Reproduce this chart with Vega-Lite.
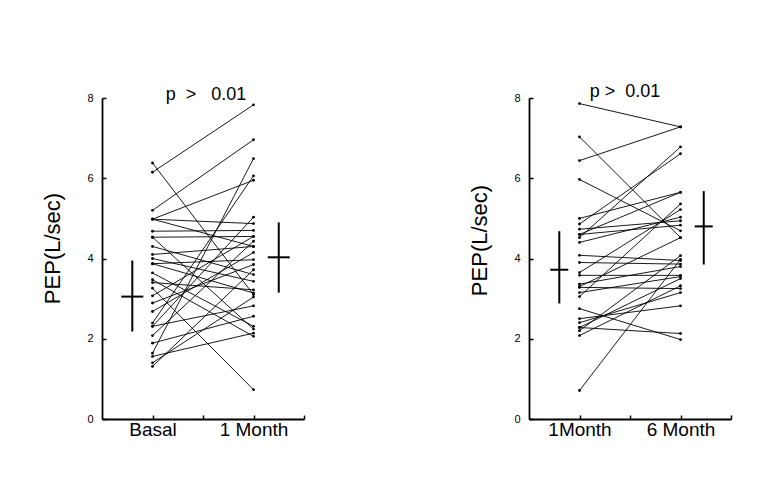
{
  "$schema": "https://vega.github.io/schema/vega-lite/v6.json",
  "background": "white",
  "padding": {"left": 41, "top": 83, "right": 5, "bottom": 5},
  "spacing": 163,
  "config": {
    "view": {"stroke": null},
    "font": "Liberation Sans",
    "axis": {"domainColor": "black", "domainWidth": 1.8, "tickColor": "black", "tickSize": -4, "tickWidth": 1.5, "grid": false, "labelColor": "black", "titleColor": "black", "labelFont": "Liberation Sans", "titleFont": "Liberation Sans", "titleFontWeight": "normal"},
    "axisY": {"labelFontSize": 11, "titleFontSize": 22, "labelPadding": 13},
    "axisX": {"labelFontSize": 19, "labelPadding": 5}
  },
  "datasets": {
    "pairs": [
      {"panel": "A", "id": 1, "t": 1, "v": 6.15}, {"panel": "A", "id": 1, "t": 2, "v": 7.83},
      {"panel": "A", "id": 2, "t": 1, "v": 6.38}, {"panel": "A", "id": 2, "t": 2, "v": 3.1},
      {"panel": "A", "id": 3, "t": 1, "v": 5.2}, {"panel": "A", "id": 3, "t": 2, "v": 6.96},
      {"panel": "A", "id": 4, "t": 1, "v": 4.98}, {"panel": "A", "id": 4, "t": 2, "v": 5.95},
      {"panel": "A", "id": 5, "t": 1, "v": 4.98}, {"panel": "A", "id": 5, "t": 2, "v": 4.87},
      {"panel": "A", "id": 6, "t": 1, "v": 4.98}, {"panel": "A", "id": 6, "t": 2, "v": 4.3},
      {"panel": "A", "id": 7, "t": 1, "v": 4.68}, {"panel": "A", "id": 7, "t": 2, "v": 4.7},
      {"panel": "A", "id": 8, "t": 1, "v": 4.53}, {"panel": "A", "id": 8, "t": 2, "v": 2.24},
      {"panel": "A", "id": 9, "t": 1, "v": 4.3}, {"panel": "A", "id": 9, "t": 2, "v": 3.6},
      {"panel": "A", "id": 10, "t": 1, "v": 4.1}, {"panel": "A", "id": 10, "t": 2, "v": 4.3},
      {"panel": "A", "id": 11, "t": 1, "v": 4.0}, {"panel": "A", "id": 11, "t": 2, "v": 3.43},
      {"panel": "A", "id": 12, "t": 1, "v": 3.87}, {"panel": "A", "id": 12, "t": 2, "v": 3.97},
      {"panel": "A", "id": 13, "t": 1, "v": 2.39}, {"panel": "A", "id": 13, "t": 2, "v": 6.06},
      {"panel": "A", "id": 14, "t": 1, "v": 1.64}, {"panel": "A", "id": 14, "t": 2, "v": 6.49},
      {"panel": "A", "id": 15, "t": 1, "v": 3.47}, {"panel": "A", "id": 15, "t": 2, "v": 2.06},
      {"panel": "A", "id": 16, "t": 1, "v": 3.4}, {"panel": "A", "id": 16, "t": 2, "v": 3.22},
      {"panel": "A", "id": 17, "t": 1, "v": 3.26}, {"panel": "A", "id": 17, "t": 2, "v": 0.73},
      {"panel": "A", "id": 18, "t": 1, "v": 3.07}, {"panel": "A", "id": 18, "t": 2, "v": 4.55},
      {"panel": "A", "id": 19, "t": 1, "v": 2.89}, {"panel": "A", "id": 19, "t": 2, "v": 3.85},
      {"panel": "A", "id": 20, "t": 1, "v": 2.68}, {"panel": "A", "id": 20, "t": 2, "v": 4.15},
      {"panel": "A", "id": 21, "t": 1, "v": 2.31}, {"panel": "A", "id": 21, "t": 2, "v": 2.82},
      {"panel": "A", "id": 22, "t": 1, "v": 2.08}, {"panel": "A", "id": 22, "t": 2, "v": 4.43},
      {"panel": "A", "id": 23, "t": 1, "v": 1.89}, {"panel": "A", "id": 23, "t": 2, "v": 2.56},
      {"panel": "A", "id": 24, "t": 1, "v": 1.56}, {"panel": "A", "id": 24, "t": 2, "v": 2.14},
      {"panel": "A", "id": 25, "t": 1, "v": 1.4}, {"panel": "A", "id": 25, "t": 2, "v": 3.04},
      {"panel": "A", "id": 26, "t": 1, "v": 1.31}, {"panel": "A", "id": 26, "t": 2, "v": 3.72},
      {"panel": "A", "id": 27, "t": 1, "v": 3.64}, {"panel": "A", "id": 27, "t": 2, "v": 2.31},
      {"panel": "A", "id": 28, "t": 1, "v": 2.31}, {"panel": "A", "id": 28, "t": 2, "v": 5.03},
      {"panel": "A", "id": 29, "t": 1, "v": 3.87}, {"panel": "A", "id": 29, "t": 2, "v": 3.14},
      {"panel": "A", "id": 30, "t": 1, "v": 4.53}, {"panel": "A", "id": 30, "t": 2, "v": 4.55},
      {"panel": "B", "id": 1, "t": 1, "v": 7.86}, {"panel": "B", "id": 1, "t": 2, "v": 7.28},
      {"panel": "B", "id": 2, "t": 1, "v": 7.03}, {"panel": "B", "id": 2, "t": 2, "v": 4.52},
      {"panel": "B", "id": 3, "t": 1, "v": 6.44}, {"panel": "B", "id": 3, "t": 2, "v": 7.28},
      {"panel": "B", "id": 4, "t": 1, "v": 5.97}, {"panel": "B", "id": 4, "t": 2, "v": 4.69},
      {"panel": "B", "id": 5, "t": 1, "v": 5.0}, {"panel": "B", "id": 5, "t": 2, "v": 5.65},
      {"panel": "B", "id": 6, "t": 1, "v": 4.86}, {"panel": "B", "id": 6, "t": 2, "v": 6.61},
      {"panel": "B", "id": 7, "t": 1, "v": 4.73}, {"panel": "B", "id": 7, "t": 2, "v": 4.94},
      {"panel": "B", "id": 8, "t": 1, "v": 4.6}, {"panel": "B", "id": 8, "t": 2, "v": 5.65},
      {"panel": "B", "id": 9, "t": 1, "v": 4.6}, {"panel": "B", "id": 9, "t": 2, "v": 4.83},
      {"panel": "B", "id": 10, "t": 1, "v": 4.52}, {"panel": "B", "id": 10, "t": 2, "v": 6.78},
      {"panel": "B", "id": 11, "t": 1, "v": 4.4}, {"panel": "B", "id": 11, "t": 2, "v": 5.03},
      {"panel": "B", "id": 12, "t": 1, "v": 4.08}, {"panel": "B", "id": 12, "t": 2, "v": 3.95},
      {"panel": "B", "id": 13, "t": 1, "v": 3.9}, {"panel": "B", "id": 13, "t": 2, "v": 3.86},
      {"panel": "B", "id": 14, "t": 1, "v": 3.65}, {"panel": "B", "id": 14, "t": 2, "v": 5.22},
      {"panel": "B", "id": 15, "t": 1, "v": 3.58}, {"panel": "B", "id": 15, "t": 2, "v": 3.58},
      {"panel": "B", "id": 16, "t": 1, "v": 3.36}, {"panel": "B", "id": 16, "t": 2, "v": 3.8},
      {"panel": "B", "id": 17, "t": 1, "v": 3.28}, {"panel": "B", "id": 17, "t": 2, "v": 3.25},
      {"panel": "B", "id": 18, "t": 1, "v": 3.15}, {"panel": "B", "id": 18, "t": 2, "v": 3.55},
      {"panel": "B", "id": 19, "t": 1, "v": 3.05}, {"panel": "B", "id": 19, "t": 2, "v": 5.36},
      {"panel": "B", "id": 20, "t": 1, "v": 2.75}, {"panel": "B", "id": 20, "t": 2, "v": 1.98},
      {"panel": "B", "id": 21, "t": 1, "v": 2.5}, {"panel": "B", "id": 21, "t": 2, "v": 2.82},
      {"panel": "B", "id": 22, "t": 1, "v": 2.4}, {"panel": "B", "id": 22, "t": 2, "v": 3.15},
      {"panel": "B", "id": 23, "t": 1, "v": 2.28}, {"panel": "B", "id": 23, "t": 2, "v": 2.13},
      {"panel": "B", "id": 24, "t": 1, "v": 2.2}, {"panel": "B", "id": 24, "t": 2, "v": 4.07},
      {"panel": "B", "id": 25, "t": 1, "v": 2.08}, {"panel": "B", "id": 25, "t": 2, "v": 3.32},
      {"panel": "B", "id": 26, "t": 1, "v": 0.71}, {"panel": "B", "id": 26, "t": 2, "v": 3.98},
      {"panel": "B", "id": 27, "t": 1, "v": 3.3}, {"panel": "B", "id": 27, "t": 2, "v": 4.52},
      {"panel": "B", "id": 28, "t": 1, "v": 2.28}, {"panel": "B", "id": 28, "t": 2, "v": 3.5}
    ],
    "summary": [
      {"panel": "A", "t": 0.8, "v": 3.05, "lo": 2.18, "hi": 3.95},
      {"panel": "A", "t": 2.25, "v": 4.03, "lo": 3.15, "hi": 4.9},
      {"panel": "B", "t": 0.8, "v": 3.72, "lo": 2.88, "hi": 4.68},
      {"panel": "B", "t": 2.23, "v": 4.8, "lo": 3.85, "hi": 5.68}
    ]
  },
  "hconcat": [
    {
      "width": 202, "height": 321,
      "title": {"text": "p\u00a0\u00a0>\u00a0\u00a0\u00a00.01", "fontSize": 18, "fontWeight": "normal", "font": "Liberation Sans", "baseline": "alphabetic", "offset": -26, "anchor": "middle", "frame": "group", "dx": 3},
      "layer": [
        {
          "data": {"name": "pairs"},
          "transform": [{"filter": "datum.panel == 'A'"}],
          "mark": {"type": "line", "color": "black", "strokeWidth": 0.9},
          "encoding": {
            "x": {"field": "t", "type": "quantitative", "scale": {"domain": [0.5, 2.5], "nice": false, "zero": false}, "axis": {"title": null, "values": [1, 1.5, 2, 2.5], "labelExpr": "datum.value == 1 ? 'Basal' : datum.value == 2 ? '1 Month' : ''"}},
            "y": {"field": "v", "type": "quantitative", "title": "PEP(L/sec)", "scale": {"domain": [0, 8], "nice": false}, "axis": {"values": [0, 2, 4, 6, 8], "titlePadding": 22, "titleY": 150}},
            "detail": {"field": "id"}
          }
        },
        {
          "data": {"name": "pairs"},
          "transform": [{"filter": "datum.panel == 'A'"}],
          "mark": {"type": "circle", "color": "black", "size": 8, "opacity": 1},
          "encoding": {
            "x": {"field": "t", "type": "quantitative"},
            "y": {"field": "v", "type": "quantitative", "title": "PEP(L/sec)"}
          }
        },
        {
          "data": {"name": "summary"},
          "transform": [{"filter": "datum.panel == 'A'"}],
          "mark": {"type": "rule", "color": "black", "strokeWidth": 2},
          "encoding": {
            "x": {"field": "t", "type": "quantitative"},
            "y": {"field": "lo", "type": "quantitative", "title": "PEP(L/sec)"},
            "y2": {"field": "hi"}
          }
        },
        {
          "data": {"name": "summary"},
          "transform": [{"filter": "datum.panel == 'A'"}],
          "mark": {"type": "tick", "orient": "horizontal", "color": "black", "size": 22, "thickness": 2, "opacity": 1},
          "encoding": {
            "x": {"field": "t", "type": "quantitative"},
            "y": {"field": "v", "type": "quantitative", "title": "PEP(L/sec)"}
          }
        }
      ]
    },
    {
      "width": 202, "height": 321,
      "title": {"text": "p\u00a0>\u00a0\u00a00.01", "fontSize": 18, "fontWeight": "normal", "font": "Liberation Sans", "baseline": "alphabetic", "offset": -23, "anchor": "middle", "frame": "group", "dx": -5},
      "layer": [
        {
          "data": {"name": "pairs"},
          "transform": [{"filter": "datum.panel == 'B'"}],
          "mark": {"type": "line", "color": "black", "strokeWidth": 0.9},
          "encoding": {
            "x": {"field": "t", "type": "quantitative", "scale": {"domain": [0.5, 2.5], "nice": false, "zero": false}, "axis": {"title": null, "values": [1, 1.5, 2, 2.5], "labelExpr": "datum.value == 1 ? '1Month' : datum.value == 2 ? '6 Month' : ''"}},
            "y": {"field": "v", "type": "quantitative", "title": "PEP(L/sec)", "scale": {"domain": [0, 8], "nice": false}, "axis": {"values": [0, 2, 4, 6, 8], "titlePadding": 22, "titleY": 142}},
            "detail": {"field": "id"}
          }
        },
        {
          "data": {"name": "pairs"},
          "transform": [{"filter": "datum.panel == 'B'"}],
          "mark": {"type": "circle", "color": "black", "size": 8, "opacity": 1},
          "encoding": {
            "x": {"field": "t", "type": "quantitative"},
            "y": {"field": "v", "type": "quantitative", "title": "PEP(L/sec)"}
          }
        },
        {
          "data": {"name": "summary"},
          "transform": [{"filter": "datum.panel == 'B'"}],
          "mark": {"type": "rule", "color": "black", "strokeWidth": 2},
          "encoding": {
            "x": {"field": "t", "type": "quantitative"},
            "y": {"field": "lo", "type": "quantitative", "title": "PEP(L/sec)"},
            "y2": {"field": "hi"}
          }
        },
        {
          "data": {"name": "summary"},
          "transform": [{"filter": "datum.panel == 'B'"}],
          "mark": {"type": "tick", "orient": "horizontal", "color": "black", "size": 18, "thickness": 2, "opacity": 1},
          "encoding": {
            "x": {"field": "t", "type": "quantitative"},
            "y": {"field": "v", "type": "quantitative", "title": "PEP(L/sec)"}
          }
        }
      ]
    }
  ]
}
